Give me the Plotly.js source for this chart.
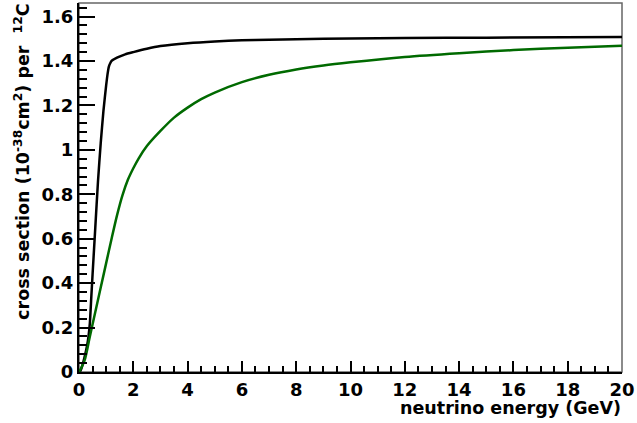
<!DOCTYPE html>
<html>
<head>
<meta charset="utf-8">
<script src="https://cdn.plot.ly/plotly-3.0.1.min.js"></script>
<style>html,body{margin:0;padding:0;background:#fff;}#chart{width:637px;height:423px;}</style>
</head>
<body>
<div id="chart"></div>
<script>
// Black curve
const energyBlack = [0, 0.05, 0.1, 0.2, 0.3, 0.35, 0.4, 0.45, 0.5, 0.6, 0.7, 0.8, 0.9, 1.0, 1.05, 1.1, 1.15, 1.2, 1.4, 1.7, 2, 2.5, 3, 4, 5, 6, 7, 8, 10, 12, 15, 20];
const xsecBlack   = [0, 0.005, 0.02, 0.065, 0.12, 0.16, 0.22, 0.33, 0.44, 0.65, 0.86, 1.03, 1.175, 1.29, 1.34, 1.375, 1.39, 1.40, 1.415, 1.43, 1.44, 1.455, 1.467, 1.48, 1.488, 1.493, 1.496, 1.498, 1.501, 1.503, 1.505, 1.508];
// Green curve
const energyGreen = [0, 0.2, 0.4, 0.6, 0.8, 1.0, 1.2, 1.4, 1.6, 1.8, 2.0, 2.2, 2.5, 3.0, 3.5, 4, 4.5, 5, 6, 7, 8, 9, 10, 12, 14, 16, 18, 20];
const xsecGreen   = [0, 0.05, 0.16, 0.27, 0.38, 0.49, 0.60, 0.705, 0.795, 0.865, 0.917, 0.962, 1.017, 1.085, 1.145, 1.19, 1.228, 1.258, 1.305, 1.338, 1.362, 1.38, 1.394, 1.418, 1.435, 1.449, 1.46, 1.469];
// Tick labels
const xTickVals = [0, 2, 4, 6, 8, 10, 12, 14, 16, 18, 20];
const xTickText = ['0', '2', '4', '6', '8', '10', '12', '14', '16', '18', '20'];
const yTickVals = [0, 0.2, 0.4, 0.6, 0.8, 1.0, 1.2, 1.4, 1.6];
const yTickText = ['0', '0.2', '0.4', '0.6', '0.8', '1', '1.2', '1.4', '1.6'];

const fam = 'DejaVu Sans, sans-serif';
const tickFont = {family: fam, size: 18, color: '#000', weight: 700};
const bold = s => '<b>' + s + '</b>';

const traces = [
  {x: energyBlack, y: xsecBlack, mode: 'lines', line: {color: '#000000', width: 2.5, shape: 'spline', smoothing: 0.5}, hoverinfo: 'skip'},
  {x: energyGreen, y: xsecGreen, mode: 'lines', line: {color: '#006a00', width: 2.5, shape: 'spline', smoothing: 0.8}, hoverinfo: 'skip'}
];

const layout = {
  width: 637, height: 423,
  margin: {l: 79, r: 15, t: 3, b: 51},
  paper_bgcolor: '#fff', plot_bgcolor: '#fff',
  showlegend: false,
  xaxis: {
    range: [0, 20], tickmode: 'array', tickvals: xTickVals, ticktext: xTickText.map(bold),
    ticks: 'inside', ticklen: 11, tickwidth: 2, tickcolor: '#000',
    minor: {dtick: 0.5, tick0: 0, ticks: 'inside', ticklen: 6, tickwidth: 2, tickcolor: '#000', showgrid: false},
    showline: true, linecolor: '#000', linewidth: 2,
    showgrid: false, zeroline: false,
    tickfont: tickFont, fixedrange: true
  },
  yaxis: {
    range: [0, 1.661], tickmode: 'array', tickvals: yTickVals, ticktext: yTickText.map(bold),
    ticks: 'inside', ticklen: 16, tickwidth: 2, tickcolor: '#000',
    minor: {dtick: 0.04, tick0: 0, ticks: 'inside', ticklen: 8, tickwidth: 2, tickcolor: '#000', showgrid: false},
    showline: true, linecolor: '#000', linewidth: 2,
    showgrid: false, zeroline: false,
    tickfont: tickFont, fixedrange: true
  },
  shapes: [
    {type: 'rect', xref: 'paper', yref: 'paper', x0: 0, x1: 1, y0: 0, y1: 1, line: {color: '#666', width: 1.5}, layer: 'below'}
  ],
  annotations: [
    {xref: 'paper', yref: 'paper', x: 1.002, y: -0.097, xanchor: 'right', yanchor: 'middle', showarrow: false,
     text: '<b>neutrino energy (GeV)</b>', font: {family: fam, size: 17.5, color: '#000', weight: 700}},
    {xref: 'paper', yref: 'paper', x: -0.105, y: 1.003, xanchor: 'center', yanchor: 'top', textangle: -90, showarrow: false,
     text: '<b>cross section (10<sup>-38</sup>cm<sup>2</sup>) per  <sup>12</sup>C</b>', font: {family: fam, size: 17.5, color: '#000', weight: 700}}
  ]
};

Plotly.newPlot('chart', traces, layout, {staticPlot: true, displayModeBar: false});
</script>
</body>
</html>
